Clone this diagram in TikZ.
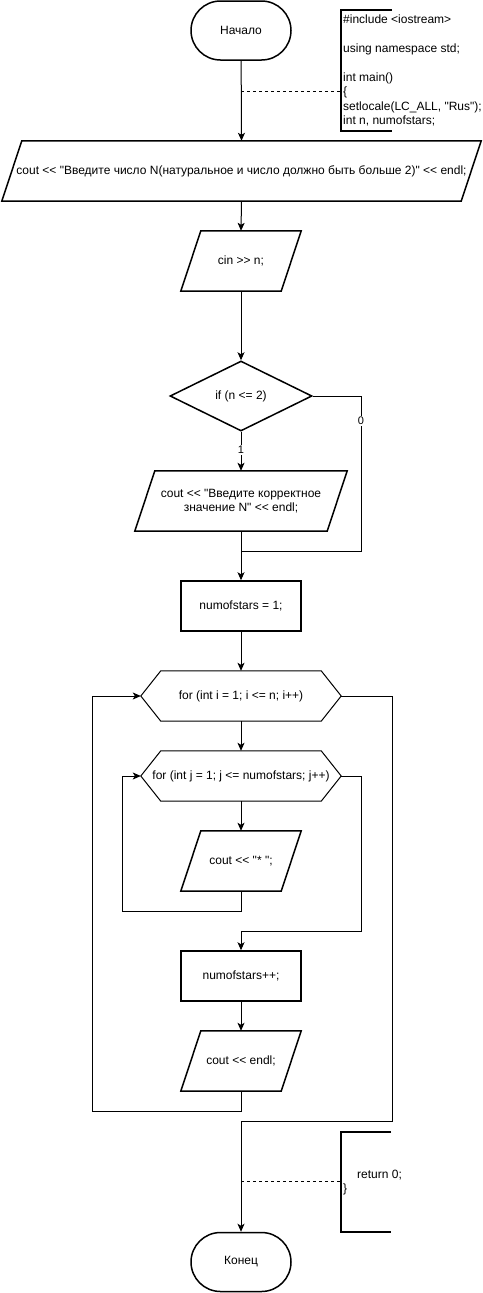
\documentclass[tikz,border=0pt]{standalone}
\usepackage{fontspec}
\newfontfamily\lsans{Liberation Sans}
\usetikzlibrary{shapes.geometric,arrows.meta}
\tikzset{
  txt/.style={font=\lsans\fontsize{12}{14.4}\selectfont, text=black},
  box/.style={txt, shape=rectangle, inner sep=0pt, minimum width=#1, align=center},
  parabox/.style={box=#1, minimum height=60pt},
  procbox/.style={box=120pt, minimum height=50pt, draw, line width=1.5pt},
  term/.style={box=100pt, minimum height=59pt, draw, line width=1.5pt, rounded corners=29.5pt},
  hexbox/.style={box=200pt, minimum height=50pt},
  shapeline/.style={line width=1.5pt, line join=miter},
  hexline/.style={line width=1pt},
  conn/.style={line width=1pt, -{Stealth[length=8pt,width=7pt,inset=2pt]}},
  plainconn/.style={line width=1pt},
  note/.style={line width=1.5pt},
  notelink/.style={line width=0.8pt, dash pattern=on 3pt off 3pt},
  lbl/.style={font=\lsans\fontsize{11}{13}\selectfont, fill=white, inner sep=1pt},
  codetext/.style={txt, align=left, inner sep=0pt, anchor=west}
}
\newcommand\paraoutline[1]{\draw[shapeline] (#1.south west) -- ([xshift=20pt]#1.north west) -- (#1.north east) -- ([xshift=-20pt]#1.south east) -- cycle;}
\newcommand\hexoutline[1]{\draw[hexline] (#1.west) -- ([xshift=20pt]#1.north west) -- ([xshift=-20pt]#1.north east) -- (#1.east) -- ([xshift=-20pt]#1.south east) -- ([xshift=20pt]#1.south west) -- cycle;}
\begin{document}
\begin{tikzpicture}[x=1pt,y=-1pt]
\useasboundingbox (0,0) rectangle (482,1293);
\fill[white] (0,0) rectangle (482,1293);

% nodes
\node[term] (start) at (241,30.5) {Начало};
\node[parabox=479pt] (p1) at (241.5,171) {cout << "Введите число N(натуральное и число должно быть больше 2)" << endl;};
\node[parabox=120pt] (p2) at (241,261) {cin >> n;};
\node[diamond, draw, line width=1.5pt, minimum width=142pt, minimum height=70pt, inner sep=0pt, aspect=2, txt] (d) at (241,396) {if (n <= 2)};
\node[parabox=212pt] (p3) at (241,501) {cout << "Введите корректное\\значение N" << endl;};
\node[procbox] (r1) at (241,606) {numofstars = 1;};
\node[hexbox] (h1) at (241,696) {for (int i = 1; i <= n; i++)};
\node[hexbox] (h2) at (241,776) {for (int j = 1; j <= numofstars; j++)};
\node[parabox=120pt] (p4) at (241,861) {cout << "* ";};
\node[procbox] (r2) at (241,976) {numofstars++;};
\node[parabox=120pt] (p5) at (241,1061) {cout << endl;};
\node[term] (end) at (241,1262) {Конец};

\paraoutline{p1}
\paraoutline{p2}
\paraoutline{p3}
\paraoutline{p4}
\paraoutline{p5}
\hexoutline{h1}
\hexoutline{h2}

% comments
\node[codetext] (c1) at (343,70.5) {\#include <iostream>\\[14.4pt]using namespace std;\\[14.4pt]int main()\\\{\\setlocale(LC\_ALL, "Rus");\\int n, numofstars;};
\draw[note] (392,10) -- (341,10) -- (341,131) -- (392,131);
\coordinate (n1a) at (241,91);
\coordinate (n1b) at (341,91);
\draw[notelink] (n1a) -- (n1b);

\node[codetext] (c2) at (343,1182.5) {\hspace*{14pt}return 0;\\\}};
\draw[note] (391,1132) -- (341,1132) -- (341,1232) -- (391,1232);
\coordinate (n2a) at (241,1181);
\coordinate (n2b) at (341,1181);
\draw[notelink] (n2a) -- (n2b);

% connectors
\draw[conn] (start) -- (p1.north);
\draw[conn] (p1.south) -- (p2.north);
\draw[conn] (p2.south) -- (d.north);
\draw[conn] (d.south) -- (p3.north);
\node[lbl] (l1) at (241,450) {1};
\coordinate (m1) at (241,551);
\coordinate (c0) at (361,551);
\draw[plainconn] (d.east) -| (c0) -- (m1);
\node[lbl] (l0) at (361,421) {0};
\draw[conn] (p3.south) -- (r1.north);
\draw[conn] (r1.south) -- (h1.north);
\draw[conn] (h1.south) -- (h2.north);
\draw[conn] (h2.south) -- (p4.north);
\coordinate (cj1) at (122,911);
\draw[conn] (p4.south) |- (cj1) |- (h2.west);
\coordinate (ce1) at (361,931);
\draw[conn] (h2.east) -| (ce1) -| (r2.north);
\draw[conn] (r2.south) -- (p5.north);
\coordinate (ci1) at (92,1111);
\draw[conn] (p5.south) |- (ci1) |- (h1.west);
\coordinate (ce2) at (392,1121);
\draw[conn] (h1.east) -| (ce2) -| (end.north);
\end{tikzpicture}
\end{document}
